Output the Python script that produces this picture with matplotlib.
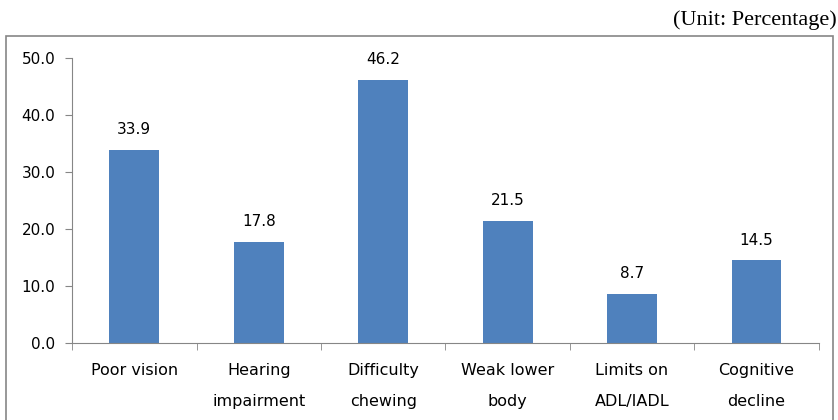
import matplotlib.pyplot as plt
import matplotlib.patches as patches
import numpy as np

categories = ['Poor vision', 'Hearing\nimpairment', 'Difficulty\nchewing',
              'Weak lower\nbody', 'Limits on\nADL/IADL', 'Cognitive\ndecline']
values = [33.9, 17.8, 46.2, 21.5, 8.7, 14.5]
yticks = [0, 10, 20, 30, 40, 50]

plt.rcParams['font.family'] = ['DejaVu Sans']

fig = plt.figure(figsize=(8.38, 4.2), dpi=100)
ax = fig.add_axes([0.086, 0.183, 0.891, 0.679])

x = np.arange(len(categories))
ax.bar(x, values, width=0.4, color='#4F81BD', zorder=2)
for xi, v in zip(x, values):
    ax.text(xi, v + 2.2, f'{v:.1f}', ha='center', va='bottom', fontsize=11)

ax.set_xlim(-0.5, len(categories) - 0.5)
ax.set_ylim(0, 50)
ax.set_yticks(yticks)
ax.set_yticklabels([f'{t:.1f}' for t in yticks], fontsize=11)
ax.set_xticks(x)
ax.set_xticklabels(categories, fontsize=11.5, linespacing=2.35)
ax.set_xticks(np.arange(-0.5, len(categories)), minor=True)
ax.tick_params(axis='x', which='major', length=0, pad=14)
ax.tick_params(axis='x', which='minor', length=5, color='#868686')
ax.tick_params(axis='y', length=5, color='#868686', pad=7)

for s in ['top', 'right']:
    ax.spines[s].set_visible(False)
ax.spines['left'].set_color('#868686')
ax.spines['bottom'].set_color('#868686')

# outer frame
frame = patches.Rectangle((6 / 838, -0.01), 827 / 838, 1 - 36 / 420 + 0.01,
                          transform=fig.transFigure, fill=False,
                          edgecolor='#868686', linewidth=1.2)
fig.patches.append(frame)

fig.text(0.998, 0.975, '(Unit: Percentage)', ha='right', va='top',
         fontsize=16, family='Liberation Serif')

fig.savefig('out.png', dpi=100)
